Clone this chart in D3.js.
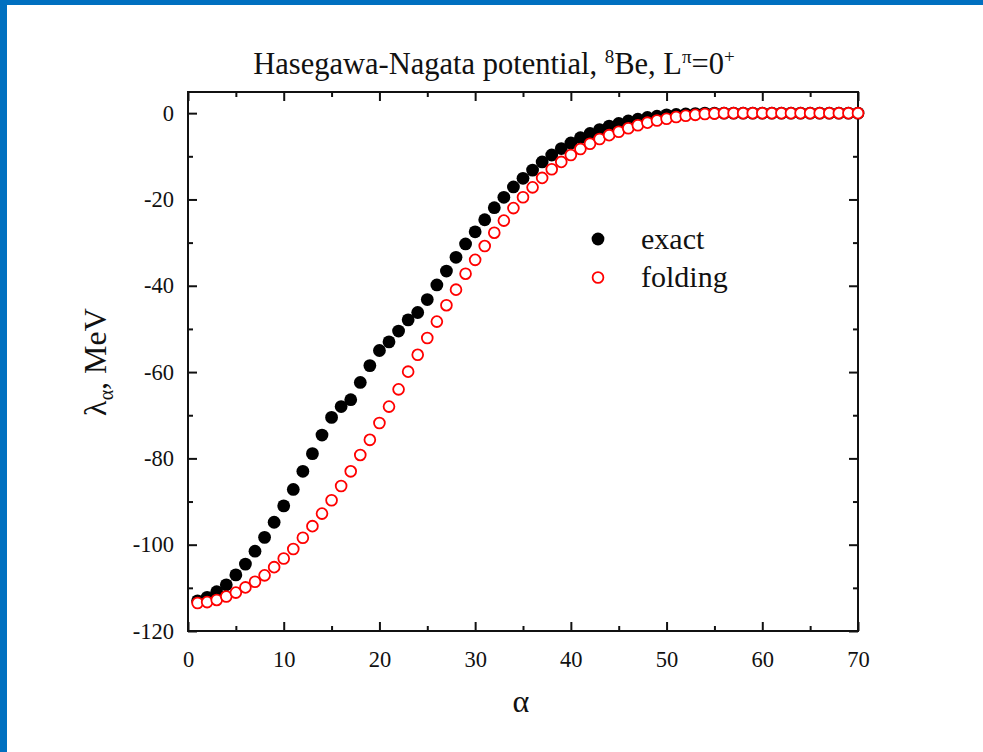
<!DOCTYPE html>
<html>
<head>
<meta charset="utf-8">
<script src="https://cdn.jsdelivr.net/npm/d3@7"></script>
<style>
  html, body { margin: 0; padding: 0; background: #fff; }
  svg text { font-family: "Liberation Serif", "Times New Roman", serif; fill: #111; }
</style>
</head>
<body>
<div id="chart"></div>
<script>
// alpha index 1..70
var alphas = d3.range(1, 71);

var exactValues = [
  -113.0, -112.2, -110.9, -109.3, -107.0, -104.5, -101.5, -98.3, -94.8, -91.0,
  -87.2, -83.0, -78.9, -74.6, -70.5, -68.0, -66.4, -62.4, -58.5, -55.0,
  -53.0, -50.5, -47.9, -46.2, -43.2, -39.8, -36.6, -33.4, -30.3, -27.5,
  -24.7, -21.9, -19.5, -17.1, -15.1, -13.2, -11.3, -9.7, -8.2, -6.9,
  -5.7, -4.7, -3.8, -3.0, -2.4, -1.8, -1.4, -1.0, -0.7, -0.4,
  -0.3, -0.2, -0.1, 0, 0, 0, 0, 0, 0, 0,
  0, 0, 0, 0, 0, 0, 0, 0, 0, 0
];

var foldingValues = [
  -113.5, -113.3, -112.8, -112.0, -111.1, -109.9, -108.6, -107.1, -105.2, -103.2,
  -101.0, -98.4, -95.7, -92.8, -89.7, -86.4, -83.0, -79.2, -75.7, -71.8,
  -68.0, -64.0, -59.9, -56.0, -52.1, -48.3, -44.5, -40.9, -37.2, -34.0,
  -30.8, -27.7, -24.9, -22.0, -19.5, -17.2, -15.0, -13.0, -11.3, -9.7,
  -8.3, -7.1, -6.0, -5.1, -4.3, -3.5, -2.8, -2.2, -1.7, -1.3,
  -0.9, -0.6, -0.4, -0.2, -0.1, 0, 0, 0, 0, 0,
  0, 0, 0, 0, 0, 0, 0, 0, 0, 0
];

var xTicks = [0, 10, 20, 30, 40, 50, 60, 70];
var xMinorTicks = [5, 15, 25, 35, 45, 55, 65];
var yTicks = [0, -20, -40, -60, -80, -100, -120];
var yMinorTicks = [-10, -30, -50, -70, -90, -110];
var legendLabels = ['exact', 'folding'];

var width = 983, height = 752;
var margin = {left: 188, top: 92, right: 125, bottom: 121};
var plotW = width - margin.left - margin.right;
var plotH = height - margin.top - margin.bottom;

var svg = d3.select('#chart').append('svg')
            .attr('width', width)
            .attr('height', height);

// blue slide border
svg.append('rect').attr('x', 0).attr('y', 0).attr('width', width).attr('height', 5).attr('fill', '#0070c0');
svg.append('rect').attr('x', 0).attr('y', 0).attr('width', 7).attr('height', height).attr('fill', '#0070c0');

var x = d3.scaleLinear()
          .domain([0, 70])
          .range([0, plotW]);

var y = d3.scaleLinear()
          .domain([-120, 4.9])
          .range([plotH, 0]);

var g = svg.append('g')
           .attr('transform', 'translate(' + margin.left + ',' + margin.top + ')');

// axes: ticks inward on all four sides
function styleAxis(sel) {
  sel.selectAll('.domain').remove();
  sel.selectAll('line').attr('stroke', '#111').attr('stroke-width', 2);
  sel.selectAll('text')
     .style('font-size', '22.5px');
}

var bottom = g.append('g')
              .attr('transform', 'translate(0,' + plotH + ')')
              .call(d3.axisBottom(x).tickValues(xTicks).tickSizeInner(-9).tickPadding(20).tickFormat(d3.format('d')));
styleAxis(bottom);

g.append('g')
 .attr('transform', 'translate(0,' + plotH + ')')
 .call(d3.axisBottom(x).tickValues(xMinorTicks).tickSizeInner(-5).tickFormat(''))
 .call(styleAxis);

g.append('g')
 .call(d3.axisTop(x).tickValues(xTicks).tickSizeInner(-9).tickFormat(''))
 .call(styleAxis);
g.append('g')
 .call(d3.axisTop(x).tickValues(xMinorTicks).tickSizeInner(-5).tickFormat(''))
 .call(styleAxis);

var left = g.append('g')
            .call(d3.axisLeft(y).tickValues(yTicks).tickSizeInner(-9).tickPadding(14).tickFormat(function(d) { return d < 0 ? '-' + (-d) : d; }));
styleAxis(left);

g.append('g')
 .call(d3.axisLeft(y).tickValues(yMinorTicks).tickSizeInner(-5).tickFormat(''))
 .call(styleAxis);

g.append('g')
 .attr('transform', 'translate(' + plotW + ',0)')
 .call(d3.axisRight(y).tickValues(yTicks).tickSizeInner(-9).tickFormat(''))
 .call(styleAxis);
g.append('g')
 .attr('transform', 'translate(' + plotW + ',0)')
 .call(d3.axisRight(y).tickValues(yMinorTicks).tickSizeInner(-5).tickFormat(''))
 .call(styleAxis);

// frame
g.append('rect')
 .attr('x', 0).attr('y', 0)
 .attr('width', plotW).attr('height', plotH)
 .attr('fill', 'none')
 .attr('stroke', '#111')
 .attr('stroke-width', 2);

// exact points
g.append('g').selectAll('circle')
 .data(alphas)
 .enter()
 .append('circle')
 .attr('cx', function(d) { return x(d); })
 .attr('cy', function(d, i) { return y(exactValues[i]); })
 .attr('r', 6.4)
 .attr('fill', '#000');

// folding points (open, white-filled)
g.append('g').selectAll('circle')
 .data(alphas)
 .enter()
 .append('circle')
 .attr('cx', function(d) { return x(d); })
 .attr('cy', function(d, i) { return y(foldingValues[i]); })
 .attr('r', 5.4)
 .attr('fill', '#fff')
 .attr('stroke', '#ff0000')
 .attr('stroke-width', 1.8);

// legend
var legend = svg.append('g').attr('transform', 'translate(598,239)');
legend.append('circle').attr('cx', 0).attr('cy', 0).attr('r', 6.4).attr('fill', '#000');
legend.append('circle').attr('cx', 0).attr('cy', 38.5).attr('r', 5.4)
      .attr('fill', '#fff').attr('stroke', '#ff0000').attr('stroke-width', 1.8);
legend.selectAll('text')
      .data(legendLabels)
      .enter()
      .append('text')
      .attr('x', 43)
      .attr('y', function(d, i) { return 10 + i * 37.5; })
      .style('font-size', '30px')
      .text(function(d) { return d; });

// title
var title = svg.append('text')
               .attr('x', 494)
               .attr('y', 74)
               .attr('text-anchor', 'middle')
               .style('font-size', '30.5px');
title.append('tspan').text('Hasegawa-Nagata potential, ');
title.append('tspan').attr('dy', -11).style('font-size', '19px').text('8');
title.append('tspan').attr('dy', 11).text('Be, L');
title.append('tspan').attr('dy', -11).style('font-size', '19px').text('\u03c0');
title.append('tspan').attr('dy', 11).text('=0');
title.append('tspan').attr('dy', -11).style('font-size', '19px').text('+');

// axis labels
svg.append('text')
   .attr('x', 521)
   .attr('y', 712)
   .attr('text-anchor', 'middle')
   .style('font-size', '32px')
   .text('\u03b1');

var ylab = svg.append('text')
              .attr('transform', 'translate(106,362) rotate(-90)')
              .attr('text-anchor', 'middle')
              .style('font-size', '32px');
ylab.append('tspan').text('\u03bb');
ylab.append('tspan').attr('dy', 7).style('font-size', '20px').text('\u03b1');
ylab.append('tspan').attr('dy', -7).text(', MeV');
</script>
</body>
</html>
